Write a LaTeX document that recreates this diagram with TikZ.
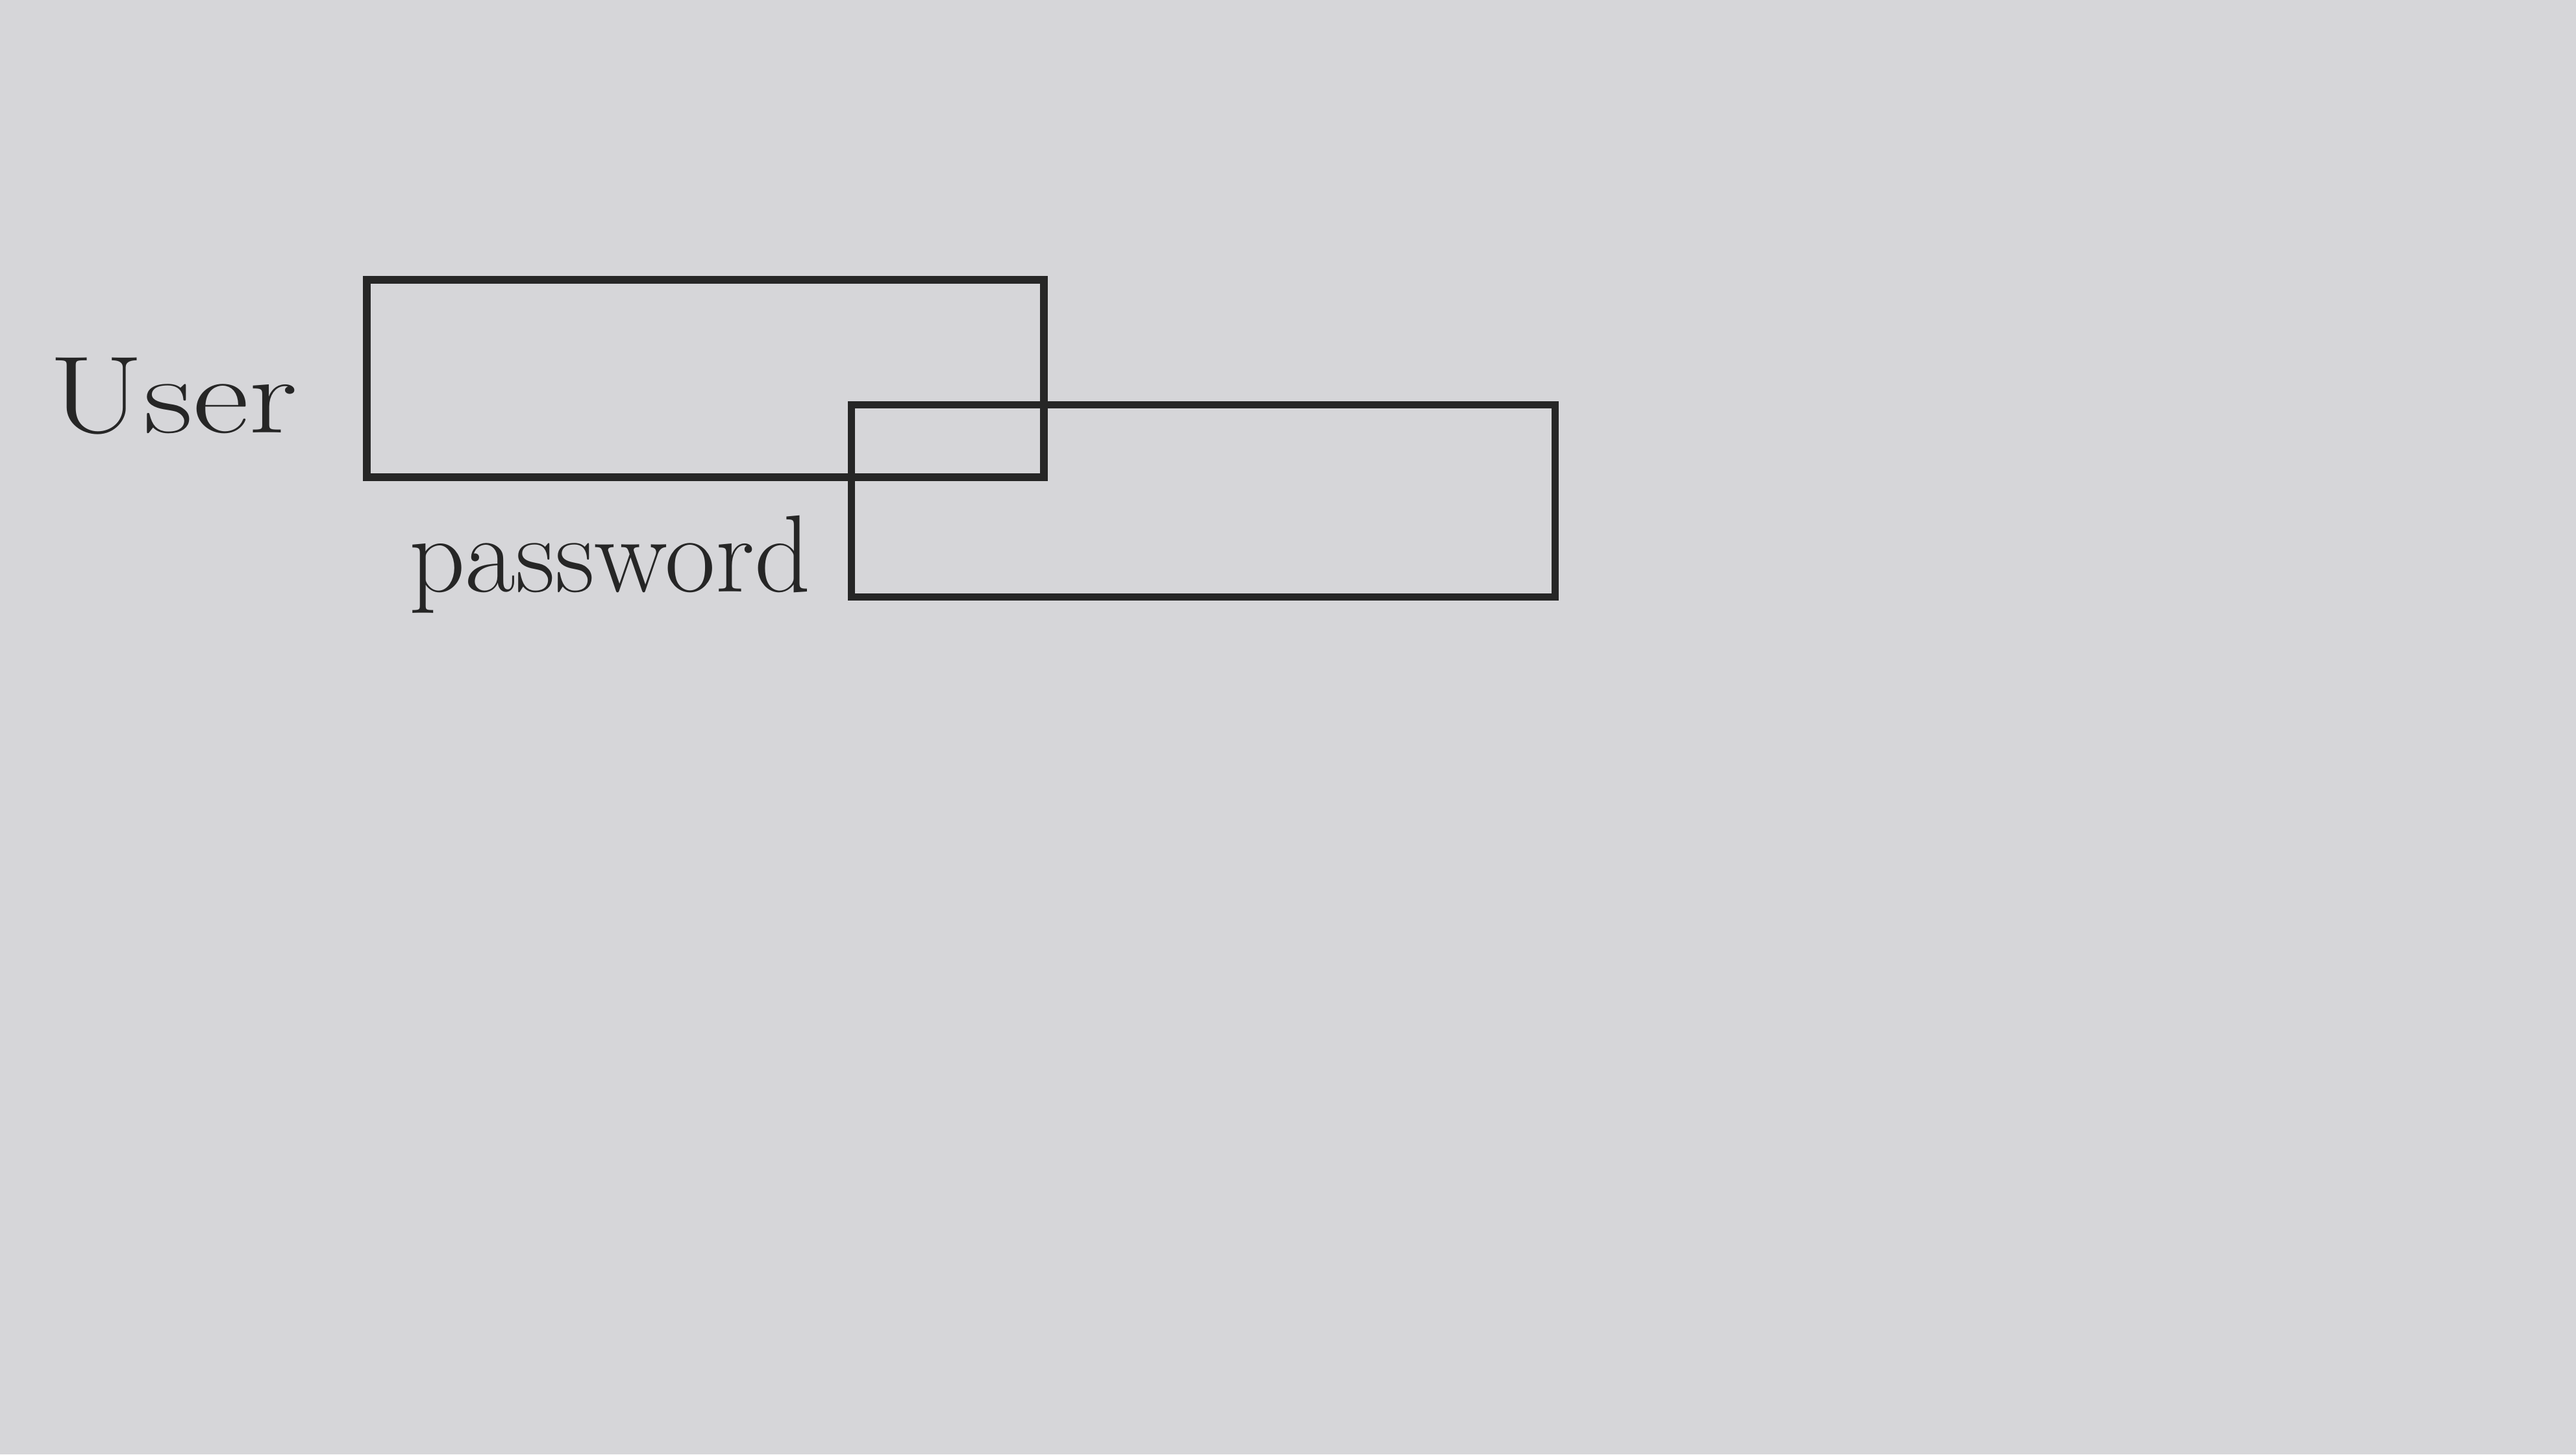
\documentclass[tikz,border=0pt]{standalone}
\definecolor{paper}{RGB}{214,214,217}
\definecolor{ink}{RGB}{38,38,38}
\tikzset{
  field/.style={draw=ink, line width=1.3pt, rectangle, inner sep=0pt},
  handlabel/.style={text=ink, font=\fontsize{19}{22}\selectfont, inner sep=0pt}
}
\begin{document}
\begin{tikzpicture}[x=0.01cm,y=-0.01cm]
  \useasboundingbox (0,0) rectangle (1568,885.16);
  \fill[paper] (0,0) rectangle (1568,885.16);
  % boxes
  \node[field, minimum width=4.12cm, minimum height=1.20cm, anchor=north west] (userbox) at (221,168) {};
  \node[field, minimum width=4.28cm, minimum height=1.17cm, anchor=north west] (pwbox) at (516,244) {};
  % labels
  \node[handlabel, anchor=east, xscale=1.25] (userlabel) at (182,241) {User};
  \node[handlabel, anchor=base east] (pwlabel) at (494,360) {password};
\end{tikzpicture}
\end{document}
